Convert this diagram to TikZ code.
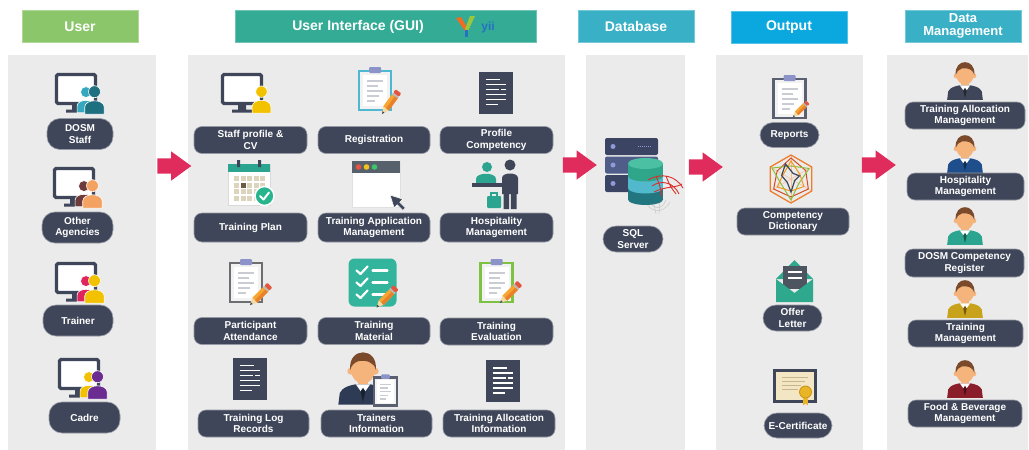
\documentclass[tikz,border=0pt]{standalone}
\usepackage{fontspec}
\setmainfont{Liberation Sans}
\usetikzlibrary{positioning, shapes.arrows}

\definecolor{pillbg}{HTML}{3F4659}
\definecolor{panelbg}{HTML}{EBEBEB}
\definecolor{hdrgreen}{HTML}{8CC66B}
\definecolor{hdrteal}{HTML}{34AB95}
\definecolor{hdrcyan}{HTML}{3AB0C6}
\definecolor{hdrblue}{HTML}{0BA8DF}
\definecolor{flowred}{HTML}{E02C5C}
\definecolor{yiiorange}{HTML}{F26B21}
\definecolor{yiigreen}{HTML}{9BC53D}
\definecolor{yiiblue}{HTML}{2672C0}
\definecolor{skin}{HTML}{F4B47C}
\definecolor{hair}{HTML}{7A4A2B}
\definecolor{boardbg}{HTML}{F2F2F2}
\definecolor{linegray}{HTML}{C9CDD3}
\definecolor{clipblue}{HTML}{8C93C8}
\definecolor{pencilorange}{HTML}{F7A531}
\definecolor{pencilshade}{HTML}{E8812A}
\definecolor{erasered}{HTML}{E2553F}
\definecolor{woodtan}{HTML}{F3D9A4}
\definecolor{regteal}{HTML}{4DB8CF}
\definecolor{attgray}{HTML}{6D6E71}
\definecolor{evalgreen}{HTML}{7DC242}
\definecolor{repgray}{HTML}{5B6070}
\definecolor{calteal}{HTML}{2BA58F}
\definecolor{gridbeige}{HTML}{DCD4BD}
\definecolor{gridbrown}{HTML}{6E5B45}
\definecolor{checkgreen}{HTML}{27B58E}
\definecolor{barslate}{HTML}{56616B}
\definecolor{dotred}{HTML}{E8523F}
\definecolor{dotyellow}{HTML}{F2C21B}
\definecolor{dotgreen}{HTML}{3CC46A}
\definecolor{matteal}{HTML}{32B59C}
\definecolor{srvdark}{HTML}{3B4563}
\definecolor{srvmid}{HTML}{4F5D88}
\definecolor{srvdot}{HTML}{8E9BD6}
\definecolor{cyltop}{HTML}{4CC0A3}
\definecolor{cylone}{HTML}{2FA58A}
\definecolor{cyltwo}{HTML}{52B9CC}
\definecolor{cylthree}{HTML}{21767F}
\definecolor{sqlred}{HTML}{D9302B}
\definecolor{meshgray}{HTML}{C8C8C8}
\definecolor{radorange}{HTML}{EE7D2B}
\definecolor{radred}{HTML}{D64A22}
\definecolor{radgreen}{HTML}{8CBF3F}
\definecolor{envteal}{HTML}{2FA98E}
\definecolor{lettergray}{HTML}{4D5560}
\definecolor{parchment}{HTML}{F2E6C4}
\definecolor{parchline}{HTML}{C9B58A}
\definecolor{sealgold}{HTML}{E9B526}
\definecolor{sealdark}{HTML}{C98F12}
\definecolor{dosmback}{HTML}{35A8C0}
\definecolor{dosmfront}{HTML}{1E6F80}
\definecolor{agencyback}{HTML}{6E3B3B}
\definecolor{agencyfront}{HTML}{F4A261}
\definecolor{trainerback}{HTML}{E0245E}
\definecolor{trainerfront}{HTML}{F2C200}
\definecolor{cadrefront}{HTML}{6A2C91}
\definecolor{suitnavy}{HTML}{1F4E8C}
\definecolor{suitteal}{HTML}{2BA58F}
\definecolor{suitgold}{HTML}{C9A21B}
\definecolor{suitmaroon}{HTML}{8B1E2B}
\definecolor{suittutor}{HTML}{2E3B55}

\newcommand\tagfont{\fontsize{10}{11.5}\selectfont\bfseries}
\newcommand\headfont{\fontsize{14}{15}\selectfont\bfseries}

\tikzset{
  % monitor
  pics/screen/.style={code={
    \draw[pillbg, line width=3.2, fill=white, rounded corners=1.5] (-20.5,-18.5) rectangle (18.5,10.5);
    \fill[pillbg] (-5,12) rectangle (3,16.5) (-11,16.5) rectangle (9,19.5);
  }},
  % head and shoulders
  pics/member/.style={code={
    \filldraw[fill=#1, draw=white, line width=0.6] (-8.5,11) -- (-8.5,5) .. controls (-8.5,-2.5) and (8.5,-2.5) .. (8.5,5) -- (8.5,11) -- cycle;
    \filldraw[fill=#1, draw=white, line width=0.6] (0,-8.5) circle[radius=5.2];
  }},
  pics/station/.style 2 args={code={
    \pic {screen};
    \pic[scale=1.05] at (9,8) {member=#1};
    \pic[scale=1.15] at (17.5,8.5) {member=#2};
  }},
  % person with tie
  pics/agent/.style={code={
    \fill[skin] (-3.5,0) rectangle (3.5,7);
    \fill[#1] (-17,19) -- (-16,11) .. controls (-14,7) and (-10,6) .. (-5,5) -- (5,5) .. controls (10,6) and (14,7) .. (16,11) -- (17,19) -- cycle;
    \fill[white] (-5,5) -- (0,12) -- (5,5) -- cycle;
    \fill[#1!55!black] (0,7.5) -- (-1.7,10) -- (0,17) -- (1.7,10) -- cycle;
    \fill[skin] (-8.4,-4) circle[radius=2.4] (8.4,-4) circle[radius=2.4];
    \fill[skin] (0,-5) ellipse[x radius=8.3, y radius=9.5];
    \fill[hair] (-8.8,-5) .. controls (-10.5,-21) and (10.5,-21) .. (8.8,-5) .. controls (8,-10) and (2,-12) .. (-3,-11) .. controls (-6,-10) and (-8,-8) .. (-8.8,-5) -- cycle;
  }},
  pics/clipboard/.style={code={
    \draw[#1, line width=2.4, fill=boardbg] (-16,-19) rectangle (16,20);
    \fill[white] (-12,-15) rectangle (12,16);
    \foreach \yy/\len in {-9/8, -4/3, 1/8, 6/4, 11/0}
      \draw[linegray, line width=1.3] (-8,\yy) -- (\len,\yy);
    \fill[clipblue, rounded corners=1] (-6,-23) rectangle (6,-17);
  }},
  pics/pencil/.style={code={
    \fill[woodtan] (0,0) -- (7,-3.5) -- (7,3.5) -- cycle;
    \fill[pillbg] (0,0) -- (2.5,-1.25) -- (2.5,1.25) -- cycle;
    \fill[pencilorange] (7,-3.5) rectangle (22,3.5);
    \fill[pencilshade] (7,0) rectangle (22,3.5);
    \fill[gray!55] (22,-3.5) rectangle (24,3.5);
    \fill[erasered, rounded corners=1] (24,-3.5) rectangle (28,3.5);
  }},
  % dark page with text lines
  pics/sheet/.style={code={
    \fill[pillbg] (-17,-21) rectangle (17,21);
    \draw[white, line width=1.2] (-10,-13) -- (4,-13) (-10,-8) -- (10,-8) (-10,-3) -- (3,-3) (5,-3) -- (10,-3)
      (-10,2) -- (10,2) (-10,7) -- (10,7) (-10,12) -- (2,12);
  }},
  pics/calendar/.style={code={
    \fill[white, draw=black!15] (-21,-19) rectangle (21,22);
    \fill[calteal] (-21,-19) rectangle (21,-11);
    \fill[pillbg] (-12,-23) rectangle (-9,-16) (9,-23) rectangle (12,-16);
    \foreach \i in {0,...,4}
      \foreach \j in {0,...,3}
        \fill[gridbeige] (-15+\i*6.5,-7+\j*6.5) rectangle ++(5,5);
    \fill[gridbrown] (-8.5,-0.5) rectangle ++(5,5);
    \filldraw[fill=checkgreen, draw=white, line width=1.5] (15.5,13) circle[radius=9.5];
    \draw[white, line width=2, line cap=round, line join=round] (11,13) -- (14.5,16.5) -- (20,9.5);
  }},
  pics/appwindow/.style={code={
    \fill[white, draw=black!12] (-24,-23) rectangle (24,23);
    \fill[barslate] (-24,-23) rectangle (24,-11);
    \fill[dotred] (-17.5,-17) circle[radius=2.8];
    \fill[dotyellow] (-9.5,-17) circle[radius=2.8];
    \fill[dotgreen] (-1.5,-17) circle[radius=2.8];
    \filldraw[fill=pillbg, draw=white, line width=0.5] (14,11) -- (26.7,15.2) -- (23.8,18.2) -- (29.4,23.9)
      -- (26.9,26.4) -- (21.2,20.8) -- (18.2,23.7) -- cycle;
  }},
  pics/frontdesk/.style={code={
    \fill[calteal] (-19,0) -- (-19,-5) .. controls (-19,-12) and (1,-12) .. (1,-5) -- (1,0) -- cycle;
    \fill[calteal] (-8,-17) circle[radius=5];
    \fill[pillbg] (-23,-1) rectangle (18,2.5);
    \fill[pillbg] (7,10) -- (7,-6) .. controls (7,-12) and (23,-12) .. (23,-6) -- (23,10) -- cycle;
    \fill[pillbg] (8.5,9) rectangle (14.2,25) (15.8,9) rectangle (21.5,25);
    \fill[pillbg] (15,-19) circle[radius=5.5];
    \fill[calteal, rounded corners=1] (-8,12) rectangle (6,24);
    \draw[calteal, line width=1.5] (-4,12) -- (-4,9) -- (2,9) -- (2,12);
  }},
  pics/checklist/.style={code={
    \fill[matteal, rounded corners=6] (-24,-24) rectangle (24,24);
    \foreach \yy in {-12,0,12} {
      \draw[white, line width=2.2, line cap=round, line join=round] (-16,\yy) -- (-12,\yy+3.5) -- (-5,\yy-4);
      \draw[white, line width=2.2, line cap=round] (0,\yy) -- (15,\yy);
    }
  }},
  pics/server/.style={code={
    \foreach \yy/\c in {-28/srvdark, -9.5/srvmid, 9/srvdark} {
      \fill[\c, rounded corners=2] (-27,\yy) rectangle (26,\yy+17);
      \fill[srvdot] (-19,\yy+8.5) circle[radius=2.5];
      \draw[srvdot, line width=1.4, dash pattern=on 1.2pt off 0.8pt] (6,\yy+8.5) -- (19,\yy+8.5);
    }
    % gray mesh and red logo
    \draw[meshgray, line width=0.5] (12,32) .. controls (16,46) and (30,50) .. (38,36)
      (16,34) .. controls (22,44) and (30,44) .. (34,34) (20,30) -- (24,48) (28,30) -- (27,48);
    \fill[cylthree] (13.5,33.5) ellipse[x radius=17.5, y radius=5.5];
    \fill[cylthree] (-4,22) rectangle (31,33.5);
    \fill[cyltwo] (13.5,22) ellipse[x radius=17.5, y radius=5.5];
    \fill[cyltwo] (-4,10) rectangle (31,22);
    \fill[cylone] (13.5,10) ellipse[x radius=17.5, y radius=5.5];
    \fill[cylone] (-4,-2.5) rectangle (31,10);
    \fill[cyltop] (13.5,-2.5) ellipse[x radius=17.5, y radius=5.5];
    \draw[sqlred, line width=0.9] (16,14) .. controls (30,6) and (44,10) .. (51,22)
      (20,20) .. controls (30,13) and (42,17) .. (47,28)
      (24,10) .. controls (28,20) .. (30,30) (34,10) .. controls (38,20) .. (44,28)
      (22,26) .. controls (34,20) and (44,22) .. (50,18);
  }},
  pics/radar/.style={code={
    \foreach \a in {90,150,...,390}
      \draw[radorange!50, line width=0.5] (0,0) -- (\a:24);
    \draw[radorange, line width=1.3] (90:24) -- (150:24) -- (210:24) -- (270:24) -- (330:24) -- (30:24) -- cycle;
    \draw[radred, line width=1] (90:18) -- (150:20) -- (210:16) -- (270:21) -- (330:17) -- (30:20) -- cycle;
    \draw[radgreen, line width=1] (90:21) -- (150:11) -- (210:22) -- (270:13) -- (330:21) -- (30:9) -- cycle;
    \draw[radorange!80!yellow, line width=1] (90:12) -- (150:16) -- (210:9) -- (270:18) -- (330:10) -- (30:15) -- cycle;
    \draw[pillbg, line width=1.2] (90:13) -- (140:5) -- (200:10) -- (250:16) -- (290:6) -- (340:9) -- (20:4) -- cycle;
  }},
  pics/envelope/.style={code={
    \fill[envteal] (-18.5,-2) -- (0,-21) -- (18.5,-2) -- cycle;
    \fill[lettergray] (-12,-15) rectangle (12,8);
    \draw[white, line width=1.8] (-7,-9) -- (7,-9) (-7,-3) -- (7,-3);
    \fill[envteal] (-18.5,-2) -- (0,12) -- (18.5,-2) -- (18.5,21) -- (-18.5,21) -- cycle;
  }},
  pics/diploma/.style={code={
    \fill[pillbg] (-22,-17) rectangle (22,17);
    \fill[parchment] (-19,-14) rectangle (19,14);
    \draw[parchline, line width=0.9] (-13,-8) -- (13,-8) (-13,-4) -- (10,-4) (-13,0) -- (6,0) (-13,4) -- (3,4);
    \fill[sealgold] (8.5,8) -- (8,20) -- (10.5,18) -- (13,20) -- (12.5,8) -- cycle;
    \filldraw[fill=sealgold, draw=sealdark, line width=0.8] (10.5,6.5) circle[radius=6];
  }},
}

\begin{document}
\begin{tikzpicture}[x=1pt, y=-1pt,
    panel/.style={rectangle, fill=panelbg, minimum height=395, inner sep=0},
    head/.style={rectangle, fill=#1, draw=#1!70!white, line width=0.7, text=white, font=\headfont,
      minimum height=32, inner sep=0, align=center},
    tag/.style={rectangle, rounded corners=8, fill=pillbg, draw=pillbg!55!white, line width=0.6,
      text=white, font=\tagfont, align=center, inner xsep=2, inner ysep=1, minimum height=27},
    capsule/.style={rounded corners=13},
    flow/.style={single arrow, fill=flowred, minimum height=34, minimum width=29,
      single arrow head extend=7, single arrow tip angle=72, inner xsep=0, inner ysep=7.5}
  ]
  \useasboundingbox (0,0) rectangle (1029,450);

  % columns
  \node[panel, minimum width=148] (userpanel) at (82,252.5) {};
  \node[panel, minimum width=377] (guipanel) at (376.5,252.5) {};
  \node[panel, minimum width=99] (dbpanel) at (635.5,252.5) {};
  \node[panel, minimum width=147] (outpanel) at (789.5,252.5) {};
  \node[panel, minimum width=141] (dmpanel) at (957.5,252.5) {};

  % headings
  \node[head=hdrgreen, minimum width=116] (userhead) at (80,26.5) {User};
  \node[head=hdrteal, minimum width=301] (guihead) at (385.5,26.5) {};
  \node[text=white, font=\headfont] (guititle) at (358,26.5) {User Interface (GUI)};
  \fill[yiiorange] (456,18) -- (461,17) -- (468,29) -- (465,31) -- cycle;
  \fill[yiigreen] (475,16) -- (470,16) -- (465,29) -- (468,31) -- cycle;
  \fill[yiiblue] (464.5,30) rectangle (468,37);
  \node[text=yiiblue, font=\fontsize{12}{12}\selectfont\bfseries, inner sep=0] (yiitext) at (488,27) {yii};
  \node[head=hdrcyan, minimum width=116] (dbhead) at (636,26) {Database};
  \node[head=hdrblue, minimum width=116] (outhead) at (789,27.5) {Output};
  \node[head=hdrcyan, minimum width=116, font=\fontsize{13}{12.5}\selectfont\bfseries] (dmhead) at (963,26) {Data\\Management};

  % users
  \pic at (77,93) {station={dosmback}{dosmfront}};
  \pic at (75,187) {station={agencyback}{agencyfront}};
  \pic at (77,282) {station={trainerback}{trainerfront}};
  \pic at (80,378) {station={trainerfront}{cadrefront}};
  \node[tag, capsule, minimum width=66, minimum height=31] (dosm) at (80,134) {DOSM\\Staff};
  \node[tag, capsule, minimum width=71, minimum height=31] (agency) at (77.5,227.5) {Other\\Agencies};
  \node[tag, capsule, minimum width=70, minimum height=31] (trainer) at (78,320.5) {Trainer};
  \node[tag, capsule, minimum width=71, minimum height=31] (cadre) at (84.5,417.5) {Cadre};

  % user interface
  \pic at (243,93) {screen};
  \pic[scale=1.1] at (261.5,101) {member=trainerfront};
  \pic at (375,90) {clipboard=regteal};
  \pic[rotate=54] at (382,114) {pencil};
  \pic at (495.5,92.5) {sheet};
  \pic at (249,183) {calendar};
  \pic at (376,184) {appwindow};
  \pic at (495,184) {frontdesk};
  \pic at (246,282) {clipboard=attgray};
  \pic[rotate=45] at (250,305) {pencil};
  \pic at (372.5,282.5) {checklist};
  \pic[rotate=46] at (376.5,307.5) {pencil};
  \pic at (496.5,282) {clipboard=evalgreen};
  \pic[rotate=45] at (500,303) {pencil};
  \pic at (250,378.5) {sheet};
  \pic[scale=1.45] at (363,377) {agent=suittutor};
  \pic[scale=.72] at (385.5,391) {clipboard=repgray};
  \pic at (502.5,381) {sheet};

  \node[tag, minimum width=113] (staff) at (250.5,140) {Staff profile \&\\CV};
  \node[tag, minimum width=112] (register) at (374,140) {Registration};
  \node[tag, minimum width=113] (profile) at (496.5,140) {Profile\\Competency};
  \node[tag, minimum width=113, minimum height=29] (plan) at (250.5,227.5) {Training Plan};
  \node[tag, minimum width=112, minimum height=29] (apply) at (374,227.5) {Training Application\\Management};
  \node[tag, minimum width=113, minimum height=29] (hosp) at (496.5,227.5) {Hospitality\\Management};
  \node[tag, minimum width=113] (attend) at (250.5,331) {Participant\\Attendance};
  \node[tag, minimum width=112] (material) at (374,331) {Training\\Material};
  \node[tag, minimum width=113] (evaluate) at (496.5,331.5) {Training\\Evaluation};
  \node[tag, minimum width=111] (logrec) at (253.5,423.5) {Training Log\\Records};
  \node[tag, minimum width=111] (tutors) at (376.5,423.5) {Trainers\\Information};
  \node[tag, minimum width=112] (allocinfo) at (499,423.5) {Training Allocation\\Information};

  % database
  \pic at (632,166) {server};
  \node[tag, capsule, minimum width=60, minimum height=26] (sql) at (633,239) {SQL\\Server};

  % output
  \pic at (789.5,98) {clipboard=repgray};
  \pic[rotate=45, scale=.75] at (793,117) {pencil};
  \pic at (791,179) {radar};
  \pic at (794.5,281) {envelope};
  \pic at (795,385.5) {diploma};
  \node[tag, capsule, minimum width=59, minimum height=25] (reports) at (789.5,135) {Reports};
  \node[tag, minimum width=112] (dictionary) at (793,221.5) {Competency\\Dictionary};
  \node[tag, capsule, minimum width=59, minimum height=26] (offer) at (792.5,318) {Offer\\Letter};
  \node[tag, capsule, minimum width=68, minimum height=25] (ecert) at (798,425.5) {E-Certificate};

  % data management
  \pic[scale=1.05] at (965,80) {agent=pillbg};
  \pic[scale=1.05] at (965,153) {agent=suitnavy};
  \pic[scale=1.05] at (965,225) {agent=suitteal};
  \pic[scale=1.05] at (965,298) {agent=suitgold};
  \pic[scale=1.05] at (965,378) {agent=suitmaroon};
  \node[tag, minimum width=120] (allocmgmt) at (965,115.5) {Training Allocation\\Management};
  \node[tag, minimum width=117] (hospmgmt) at (965.5,186.5) {Hospitality\\Management};
  \node[tag, minimum width=119, minimum height=28] (register2) at (964.5,263) {DOSM Competency\\Register};
  \node[tag, minimum width=115] (trainmgmt) at (965.5,333.5) {Training\\Management};
  \node[tag, minimum width=114] (foodmgmt) at (965,413.5) {Food \& Beverage\\Management};

  % flow between columns
  \node[flow] (flowa) at (169,166) {};
  \node[flow] (flowb) at (574.5,165) {};
  \node[flow] (flowc) at (700.5,167) {};
  \node[flow] (flowd) at (873.5,165) {};
\end{tikzpicture}
\end{document}
